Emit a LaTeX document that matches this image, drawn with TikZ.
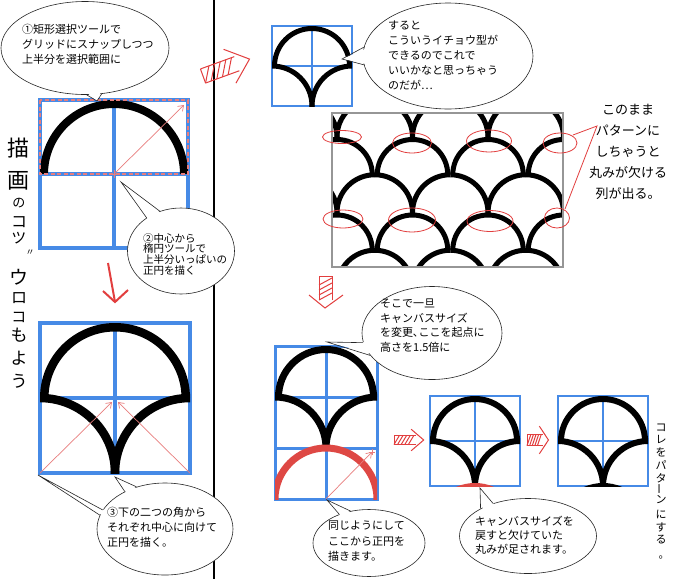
\documentclass[tikz,border=0pt]{standalone}
\usepackage{fontspec}
\setmainfont{Noto Sans CJK JP}
\usetikzlibrary{positioning,arrows.meta,calc,shapes.geometric}
\definecolor{GridBlue}{RGB}{70,138,230}
\definecolor{HandRed}{RGB}{226,62,62}
\definecolor{SemiRed}{RGB}{222,72,68}
\definecolor{PinkLine}{RGB}{232,125,125}
\definecolor{FrameGray}{RGB}{150,150,150}
\tikzset{
  gridline/.style={draw=GridBlue,line width=#1},
  inkline/.style={draw=black,line width=#1},
  bubble/.style={ellipse,draw=black!85,fill=white,line width=0.6pt,inner sep=0pt},
  tailline/.style={draw=black!85,line width=0.6pt},
  bubbletext/.style={anchor=north west,inner sep=0pt,align=left,
    font=\fontsize{11}{15}\selectfont},
  measure/.style={draw=PinkLine,line width=0.7pt,-{Straight Barb[length=5pt,width=7pt]}},
  handred/.style={draw=HandRed,line width=1pt},
  handnote/.style={font=\fontsize{13}{21}\selectfont,align=center,inner sep=0pt},
  vtext/.style={font=\fontsize{11}{11}\selectfont,inner sep=0pt},
  marquee/.style={draw=PinkLine,line width=1.6pt,dash pattern=on 4pt off 2.5pt},
  pics/hatcharrow/.style={code={
    \draw[handred] (0,-5) -- (24,-5) (0,5) -- (24,5) (0,-5) -- (0,5);
    \foreach \h in {0,4,...,16} {\draw[handred] (\h,5) -- (\h+6,-5);}
    \draw[handred] (19,-12) -- (33,0) -- (19,12);
  }}
}
% one ginkgo tile: x0, y0, size, ink width
\newcommand{\ichou}[4]{%
  \begin{scope}
    \clip (#1,#2) rectangle ({#1+#3},{#2+#3});
    \draw[inkline=#4pt] ({#1+#4/2},{#2+#3/2}) arc[start angle=180,end angle=360,radius={#3/2-#4/2}];
    \draw[inkline=#4pt] (#1,{#2+#3}) circle[radius={#3/2}];
    \draw[inkline=#4pt] ({#1+#3},{#2+#3}) circle[radius={#3/2}];
  \end{scope}}

\begin{document}
\begin{tikzpicture}[x=1pt,y=-1pt]
  \fill[white] (0,0) rectangle (680,579);
  \useasboundingbox (0,0) rectangle (680,579);

  % divider
  \coordinate (divtop) at (214,0);
  \coordinate (divbot) at (214,579);
  \draw[line width=1.8pt] (divtop) -- (divbot);

  % left title
  \foreach \ch/\yy/\sz [count=\k] in {描/148/22,画/181/22,の/203/13,コ/222/16,ツ/238/15,
      ウ/277/19,ロ/298/16,コ/317/15,も/335/17,よ/358/17,う/381/17}
    \node[font=\fontsize{\sz}{\sz}\selectfont,inner sep=0pt] (title\k) at (19,\yy) {\ch};
  \node[font=\fontsize{9}{9}\selectfont,inner sep=0pt] (titlemark) at (30,253) {〃};

  % step 1
  \draw[gridline=4pt] (40,100) rectangle (188,248) (114,100) -- (114,248) (40,174) -- (188,174);
  \draw[inkline=8pt] (44,174) arc[start angle=180,end angle=360,radius=70];
  \draw[marquee] (40,100) rectangle (188,174);
  \coordinate (c1) at (114,174);
  \coordinate (c1r) at (184,105);
  \draw[measure] (c1) -- (c1r);
  \draw[draw=PinkLine,line width=0.7pt] (110,174) -- (118,174) (114,170) -- (114,178);

  \node[bubble,minimum width=168pt,minimum height=93pt] (b1) at (85,48) {};
  \coordinate (b1tip) at (97,101);
  \fill[white] ($(b1.272)!0.05!(b1.center)$) -- (b1tip) -- ($(b1.290)!0.05!(b1.center)$) -- cycle;
  \draw[tailline] (b1.272) -- (b1tip) -- (b1.290);
  \node[bubbletext] (b1text) at (22,24) {①矩形選択ツールで\\グリッドにスナップしつつ\\上半分を選択範囲に};

  \node[bubble,minimum width=107pt,minimum height=86pt] (b2) at (181,251) {};
  \coordinate (b2tip) at (121,182);
  \fill[white] ($(b2.118)!0.05!(b2.center)$) -- (b2tip) -- ($(b2.136)!0.05!(b2.center)$) -- cycle;
  \draw[tailline] (b2.118) -- (b2tip) -- (b2.136);
  \node[bubbletext,font=\fontsize{10.5}{10.8}\selectfont] (b2text) at (143,233) {②中心から\\楕円ツールで\\上半分いっぱいの\\正円を描く};

  % red arrow down
  \coordinate (downa) at (108,263);
  \coordinate (downb) at (115,302);
  \draw[handred,line width=2pt] (downa) -- (downb);
  \draw[handred,line width=2pt] (103,291) -- (downb) -- (128,290);

  % step 3
  \draw[gridline=4pt] (40,323) rectangle (190,473) (115,323) -- (115,473) (40,398) -- (190,398);
  \ichou{40}{323}{150}{8.5}
  \coordinate (c2) at (115,398);
  \coordinate (c2l) at (40,473);
  \coordinate (c2r) at (190,473);
  \draw[measure] (c2l) -- ($(c2)+(-3,4)$);
  \draw[measure] (c2r) -- ($(c2)+(3,4)$);

  \node[bubble,minimum width=136pt,minimum height=92pt] (b3) at (165,529) {};
  \coordinate (b3tip) at (115,477);
  \coordinate (b3tipb) at (38,475);
  \fill[white] ($(b3.124)!0.05!(b3.center)$) -- (b3tip) -- ($(b3.137)!0.05!(b3.center)$) -- cycle;
  \draw[tailline] (b3.124) -- (b3tip) -- (b3.137);
  \fill[white] ($(b3.163)!0.05!(b3.center)$) -- (b3tipb) -- ($(b3.168)!0.05!(b3.center)$) -- cycle;
  \draw[tailline] (b3.163) -- (b3tipb) -- (b3.168);
  \node[bubbletext] (b3text) at (107,507) {③下の二つの角から\\それぞれ中心に向けて\\正円を描く。};

  % right top
  \pic[rotate=20,scale=1.5] (arrowa) at (203,76) {hatcharrow};
  \draw[gridline=2pt] (272,26) rectangle (352,106) (312,26) -- (312,106) (272,66) -- (352,66);
  \ichou{272}{26}{80}{5}

  \node[bubble,minimum width=170pt,minimum height=106pt] (b4) at (448,56) {};
  \coordinate (b4tip) at (342,59);
  \fill[white] ($(b4.174)!0.05!(b4.center)$) -- (b4tip) -- ($(b4.186)!0.05!(b4.center)$) -- cycle;
  \draw[tailline] (b4.174) -- (b4tip) -- (b4.186);
  \node[bubbletext] (b4text) at (388,21) {すると\\こういうイチョウ型が\\できるのでこれで\\いいかなと思っちゃう\\のだが…};

  % pattern
  \begin{scope}
    \clip (332,113) rectangle (563,267);
    \foreach \tx in {223.75,299.25,374.75,450.25,525.75}
      \foreach \ty in {61.5,137,212.5}
        {\ichou{\tx}{\ty}{75.5}{5}}
  \end{scope}
  \draw[draw=FrameGray,line width=1.5pt] (332,113) rectangle (563,267);
  \foreach \ex/\ey/\ea/\eb in {342/137/19.5/6.5,412/143/19.5/10,489/141/22.5/11,560/143/17/10,
      343/219/20/9,412/220/23.5/12,490/221/23/10.5,557/218/12.5/10}
    \draw[handred,line width=0.8pt] (\ex,\ey) ellipse[x radius=\ea,y radius=\eb];
  \coordinate (notept) at (597,126);
  \draw[handred,line width=0.8pt] (573,135) -- (notept) -- (565,209);
  \node[handnote] (note) at (628,152) {このまま\\パターンに\\しちゃうと\\丸みが欠ける\\列が出る。};

  % step 4
  \draw[handred] (319,300) -- (319,276) -- (332,276) -- (332,300);
  \foreach \h in {0,5,...,15} {\draw[handred] (332,278+\h) -- (319,285+\h);}
  \draw[handred] (309,295) -- (325,308) -- (343,295);
  \draw[gridline=3pt] (275,346) rectangle (377,499) (326,346) -- (326,499)
    (275,397) -- (377,397) (275,448) -- (377,448);
  \ichou{275}{346}{102}{7}
  \begin{scope}
    \clip (275,346) rectangle (377,499);
    \draw[draw=SemiRed,line width=7pt] (326,499) circle[radius=51];
  \end{scope}
  \coordinate (c4) at (326,499);
  \coordinate (c4r) at (372,452);
  \draw[measure] (c4) -- (c4r);
  \draw[draw=PinkLine,line width=0.7pt] (369,452) -- (375,452) (372,449) -- (372,455);

  \node[bubble,minimum width=140pt,minimum height=93pt] (b5) at (432,333) {};
  \coordinate (b5tip) at (327,342);
  \fill[white] ($(b5.188)!0.05!(b5.center)$) -- (b5tip) -- ($(b5.200)!0.05!(b5.center)$) -- cycle;
  \draw[tailline] (b5.188) -- (b5tip) -- (b5.200);
  \node[bubbletext,font=\fontsize{11}{14.5}\selectfont] (b5text) at (380,299) {そこで一旦\\キャンバスサイズ\\を変更､ここを起点に\\高さを1.5倍に};

  \node[bubble,minimum width=112pt,minimum height=67pt] (b6) at (369,543) {};
  \coordinate (b6tip) at (327,500);
  \fill[white] ($(b6.120)!0.05!(b6.center)$) -- (b6tip) -- ($(b6.136)!0.05!(b6.center)$) -- cycle;
  \draw[tailline] (b6.120) -- (b6tip) -- (b6.136);
  \node[bubbletext,font=\fontsize{11}{15.5}\selectfont] (b6text) at (328,521) {同じようにして\\ここから正円を\\描きます。};

  % step 5
  \pic[scale=0.9] (arrowc) at (394,440) {hatcharrow};
  \draw[gridline=2.5pt] (430,396) rectangle (520,486) (475,396) -- (475,486) (430,441) -- (520,441);
  \ichou{430}{396}{90}{6}
  \begin{scope}
    \clip (430,396) rectangle (520,486);
    \draw[draw=SemiRed,line width=6pt] (475,531) circle[radius=45];
  \end{scope}

  \pic[xscale=0.65,yscale=1.15] (arrowd) at (527,440) {hatcharrow};
  \draw[gridline=2.5pt] (558,396) rectangle (648,486) (603,396) -- (603,486) (558,441) -- (648,441);
  \ichou{558}{396}{90}{6}
  \begin{scope}
    \clip (558,396) rectangle (648,486);
    \draw[inkline=6pt] (603,531) circle[radius=45];
  \end{scope}

  \node[bubble,minimum width=137pt,minimum height=75pt] (b7) at (528,536) {};
  \coordinate (b7tip) at (480,488);
  \fill[white] ($(b7.137)!0.05!(b7.center)$) -- (b7tip) -- ($(b7.150)!0.05!(b7.center)$) -- cycle;
  \draw[tailline] (b7.137) -- (b7tip) -- (b7.150);
  \node[bubbletext,font=\fontsize{11}{14}\selectfont] (b7text) at (475,516) {キャンバスサイズを\\戻すと欠けていた\\丸みが足されます。};

  % right vertical text
  \foreach \ch/\yy [count=\k] in {コ/428,レ/439,を/452,パ/465,タ/478,ン/500,に/514,す/527,る/540}
    \node[vtext] (vert\k) at (661,\yy) {\ch};
  \node[vtext,rotate=90] (vertbar) at (661,489) {ー};
  \node[vtext] (vertstop) at (664,557) {。};
\end{tikzpicture}
\end{document}
